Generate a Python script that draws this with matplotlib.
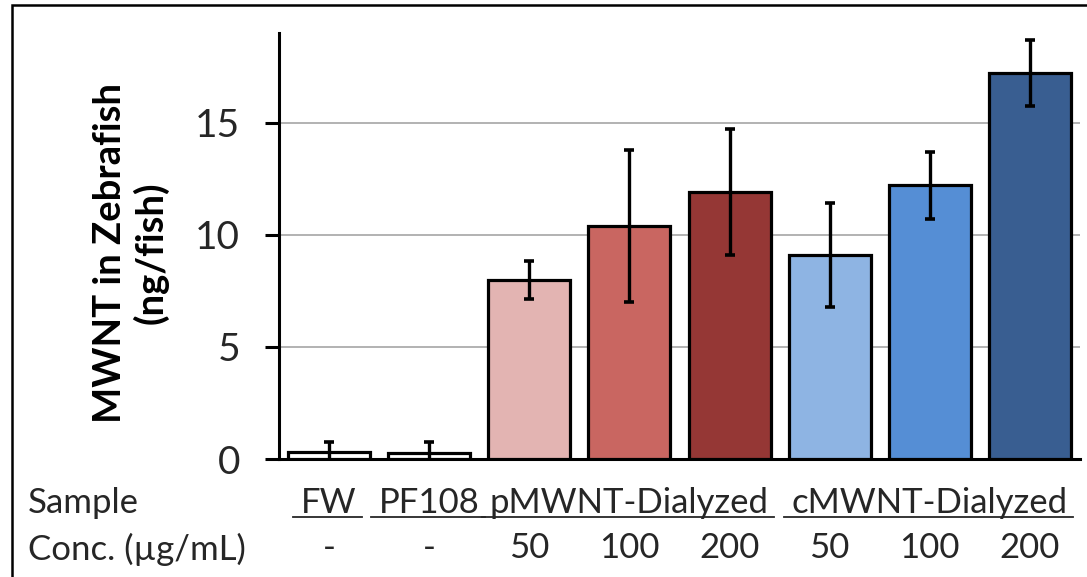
import matplotlib
matplotlib.use("Agg")
import matplotlib.pyplot as plt
from matplotlib.patches import Rectangle
from matplotlib.lines import Line2D

plt.rcParams['font.family'] = ['Lato', 'DejaVu Sans']

# MWNT uptake per fish, mean and error
samples = ["FW", "PF108", "pMWNT-Dialyzed", "cMWNT-Dialyzed"]
sample_spans = [(0, 0), (1, 1), (2, 4), (5, 7)]
concs = ["-", "-", "50", "100", "200", "50", "100", "200"]
means = [0.3, 0.25, 8.0, 10.4, 11.9, 9.1, 12.2, 17.2]
errors = [0.45, 0.5, 0.85, 3.4, 2.8, 2.3, 1.5, 1.47]
colors = ["#ffffff", "#ffffff", "#e3b4b2", "#c96661", "#953735",
          "#8eb4e3", "#558ed5", "#395e91"]

W, H = 1087, 577
fig = plt.figure(figsize=(W / 100, H / 100), dpi=100)
ax = fig.add_axes([279 / W, 1 - 459 / H, 801 / W, 426 / H])

x = list(range(len(means)))
ax.bar(x, means, width=0.82, color=colors, edgecolor="black", linewidth=2.3,
       zorder=3)
ax.errorbar(x, means, yerr=errors, fmt="none", ecolor="black", elinewidth=2.4,
            capsize=3.8, capthick=2.6, zorder=4)

ax.set_xlim(-0.5, 7.5)
ax.set_ylim(0, 19)
ax.set_yticks([0, 5, 10, 15])
ax.set_xticks([])
ax.yaxis.grid(True, color="#a6a6a6", linewidth=1.2, zorder=0)
for s in ["top", "right"]:
    ax.spines[s].set_visible(False)
ax.spines["left"].set_linewidth(2.2)
ax.spines["bottom"].set_linewidth(2.2)
ax.tick_params(axis="y", length=10, width=2.2, pad=18, labelsize=28,
               labelcolor="#262626")

fig.text(131 / W, 1 - 253 / H, "MWNT in Zebrafish\n(ng/fish)", rotation=90,
         ha="center", va="center", multialignment="center", fontsize=27.5,
         fontweight="bold", linespacing=1.2)

# category rows below the axis
fs = 25
trans = ax.get_xaxis_transform()
row1, row2 = -0.103, -0.209
fig.text(28 / W, 1 - 503 / H, "Sample", ha="left", va="center", fontsize=fs,
         color="#262626")
fig.text(28 / W, 1 - 549 / H, "Conc. (\u00b5g/mL)", ha="left", va="center",
         fontsize=fs, color="#262626")

labels = []
for name, (i0, i1) in zip(samples, sample_spans):
    t = ax.text((i0 + i1) / 2, row1, name, transform=trans, ha="center",
                va="center", fontsize=fs, color="#262626")
    labels.append(t)
for i, c in enumerate(concs):
    ax.text(i, row2, c, transform=trans, ha="center", va="center",
            fontsize=fs, color="#262626")

# underline each sample name
fig.canvas.draw()
inv = fig.transFigure.inverted()
for t in labels:
    bb = t.get_window_extent()
    (x0, y0), (x1, _) = inv.transform([(bb.x0 - 8, bb.y0), (bb.x1 + 5, bb.y0)])
    fig.add_artist(Line2D([x0, x1], [y0 + 2 / H, y0 + 2 / H], color="#262626",
                          linewidth=1.3))

# outer frame
fig.add_artist(Rectangle((12 / W, -0.1), 1.2, 1.1 - 5 / H, fill=False,
                         edgecolor="black", linewidth=1.8,
                         transform=fig.transFigure))

fig.savefig("out.png", dpi=100)
